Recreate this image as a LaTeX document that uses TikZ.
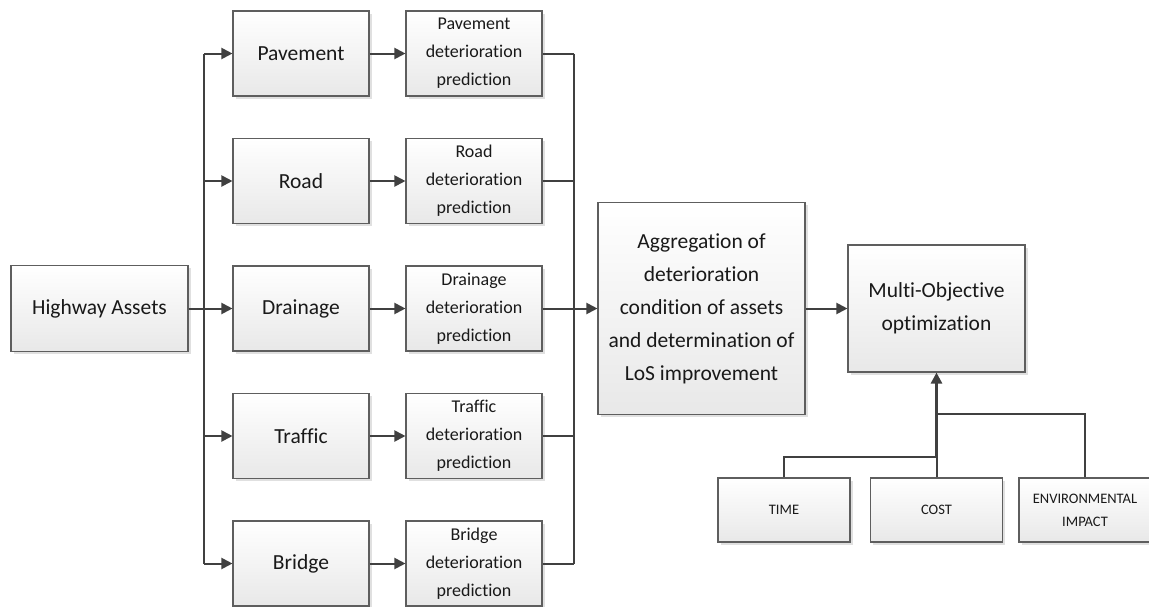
\documentclass[tikz,border=0pt]{standalone}
\usepackage{fontspec}
\setmainfont{Carlito}[Ligatures=NoCommon]
\usetikzlibrary{arrows.meta,shadows}

\definecolor{wirecol}{HTML}{404040}
\definecolor{edgecol}{HTML}{5E5E5E}

\begin{document}
\begin{tikzpicture}[x=1pt,y=-1pt,
  box/.style={draw=edgecol, line width=1.1pt, shading=axis, top color=white,
    bottom color=black!9, general shadow={fill=black!12, shadow xshift=2.5pt,
    shadow yshift=-2.5pt}, align=center, inner sep=0pt, text=black!90},
  bigtxt/.style={font=\fontsize{21.5}{33}\selectfont},
  midtxt/.style={font=\fontsize{18}{28}\selectfont},
  smalltxt/.style={font=\fontsize{14.5}{23}\selectfont},
  asset/.style={box, bigtxt, minimum width=136pt, minimum height=85pt},
  pred/.style={box, midtxt, minimum width=136pt, minimum height=85pt},
  crit/.style={box, smalltxt, minimum width=132pt, minimum height=64pt},
  wire/.style={draw=wirecol, line width=2pt},
  arr/.style={wire, -{Triangle[length=11pt,width=11pt]}}
]
\useasboundingbox (0,0) rectangle (1149,606);

% source
\node[box, bigtxt, minimum width=177pt, minimum height=86pt] (ha) at (99.5,308.5) {Highway Assets};

% asset classes
\node[asset] (pav) at (301,53.5)  {Pavement};
\node[asset] (roa) at (301,181)   {Road};
\node[asset] (dra) at (301,308.5) {Drainage};
\node[asset] (tra) at (301,436)   {Traffic};
\node[asset] (bri) at (301,563.5) {Bridge};

% deterioration models
\node[pred] (pavp) at (474,53.5)  {Pavement\\deterioration\\prediction};
\node[pred] (roap) at (474,181)   {Road\\deterioration\\prediction};
\node[pred] (drap) at (474,308.5) {Drainage\\deterioration\\prediction};
\node[pred] (trap) at (474,436)   {Traffic\\deterioration\\prediction};
\node[pred] (brip) at (474,563.5) {Bridge\\deterioration\\prediction};

% aggregation and optimisation
\node[box, bigtxt, minimum width=207pt, minimum height=212pt] (agg) at (701.5,308.5)
  {Aggregation of\\deterioration\\condition of assets\\and determination of\\LoS improvement};
\node[box, bigtxt, minimum width=177pt, minimum height=127pt] (moo) at (936.5,308.5)
  {Multi-Objective\\optimization};

% objectives
\node[crit] (tim) at (784,510)  {TIME};
\node[crit] (cos) at (936.5,510)  {COST};
\node[crit] (env) at (1085,510) {ENVIRONMENTAL\\IMPACT};

% bus positions
\coordinate (lbus) at (204,308.5);
\coordinate (rbus) at (574,308.5);
\coordinate (hT) at (0,457);
\coordinate (hE) at (0,414);

% left distribution bus
\draw[wire] (pav.west -| lbus) -- (bri.west -| lbus);
\draw[arr] (ha.east) -- (dra.west);
\foreach \n in {pav,roa,tra,bri}
  \draw[arr] (\n.west -| lbus) -- (\n.west);

% asset -> prediction
\foreach \n in {pav,roa,dra,tra,bri}
  \draw[arr] (\n.east) -- (\n p.west);

% right collecting bus
\draw[wire] (pavp.east -| rbus) -- (brip.east -| rbus);
\foreach \n in {pavp,roap,drap,trap,brip}
  \draw[wire] (\n.east) -- (\n.east -| rbus);
\draw[arr] (agg.west -| rbus) -- (agg.west);

\draw[arr] (agg.east) -- (moo.west);

% objectives feeding the optimisation
\draw[wire] (cos.north) -- (cos.north |- hT);
\draw[arr, line width=2.6pt] (cos.north |- hT) -- (moo.south);
\draw[wire] (tim.north) |- (cos.north |- hT);
\draw[wire] (env.north) |- (cos.north |- hE);
\end{tikzpicture}
\end{document}
